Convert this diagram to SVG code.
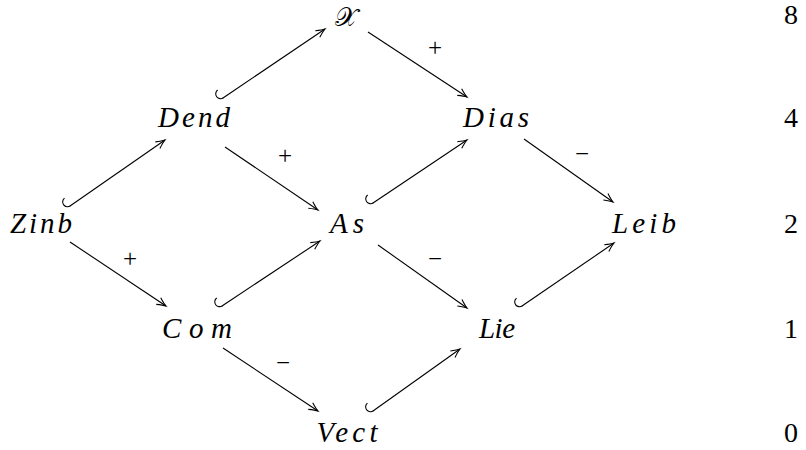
<svg xmlns="http://www.w3.org/2000/svg" width="806" height="450" viewBox="0 0 806 450" font-family="'Liberation Serif', 'Times New Roman', Times, 'DejaVu Serif', serif">
<style>
.n{font-style:italic;font-size:29px;fill:#000;text-anchor:middle}
.x{font-size:26px;fill:#000;text-anchor:middle}
.lab{font-size:25px;fill:#000;text-anchor:middle}
.num{font-size:28px;fill:#000;text-anchor:middle}
.e{stroke:#000;stroke-width:1.1;fill:none;marker-end:url(#arr)}
.h{marker-start:url(#hook)}
</style>
<defs>
<marker id="arr" markerUnits="userSpaceOnUse" markerWidth="20" markerHeight="20" viewBox="-12 -10 14 20" refX="0" refY="0" orient="auto">
<path d="M-9,-4 Q-3,-0.8 0,0 Q-3,0.8 -9,4" fill="none" stroke="#000" stroke-width="1.1"/>
</marker>
<marker id="hook" markerUnits="userSpaceOnUse" markerWidth="20" markerHeight="20" viewBox="-10 -14 20 20" refX="0" refY="0" orient="auto">
<path d="M0.5,0 A4.8,4.8 0 0 1 0,-9.6" fill="none" stroke="#000" stroke-width="1.1"/>
</marker>
</defs>
<g id="connectors">
<path class="e h" d="M223,98 L325,29"/>
<path class="e" d="M368,32 L467,97"/>
<path class="e h" d="M70,206 L165,140"/>
<path class="e" d="M225,147 L318,210"/>
<path class="e" d="M70,242 L166,306"/>
<path class="e h" d="M373,203 L467,140"/>
<path class="e" d="M524,139 L613,202"/>
<path class="e h" d="M222,306 L320,241"/>
<path class="e" d="M378,245 L467,308"/>
<path class="e h" d="M522,306 L614,243"/>
<path class="e" d="M223,348 L318,411"/>
<path class="e h" d="M373,411 L460,349"/>
<text class="lab" x="435" y="56">+</text>
<text class="lab" x="285" y="164">+</text>
<text class="lab" x="130" y="267">+</text>
<text class="lab" x="582" y="162">−</text>
<text class="lab" x="435" y="267">−</text>
<text class="lab" x="283" y="371">−</text>
</g>
<g id="X"><text class="x" x="346" y="26">𝒳</text></g>
<g id="Dend"><text class="n" x="194" y="127" textLength="72" lengthAdjust="spacing">Dend</text></g>
<g id="Dias"><text class="n" x="496" y="127" textLength="66" lengthAdjust="spacing">Dias</text></g>
<g id="Zinb"><text class="n" x="41" y="233" textLength="62" lengthAdjust="spacing">Zinb</text></g>
<g id="As"><text class="n" x="347" y="233" textLength="34" lengthAdjust="spacing">As</text></g>
<g id="Leib"><text class="n" x="644" y="233" textLength="64" lengthAdjust="spacing">Leib</text></g>
<g id="Com"><text class="n" x="197" y="338" textLength="70" lengthAdjust="spacing">Com</text></g>
<g id="Lie"><text class="n" x="497" y="338" textLength="36" lengthAdjust="spacing">Lie</text></g>
<g id="Vect"><text class="n" x="347" y="442" textLength="61" lengthAdjust="spacing">Vect</text></g>
<g id="levels">
<text class="num" x="791" y="24">8</text>
<text class="num" x="791" y="127">4</text>
<text class="num" x="791" y="233">2</text>
<text class="num" x="791" y="338">1</text>
<text class="num" x="791" y="442">0</text>
</g>
</svg>
